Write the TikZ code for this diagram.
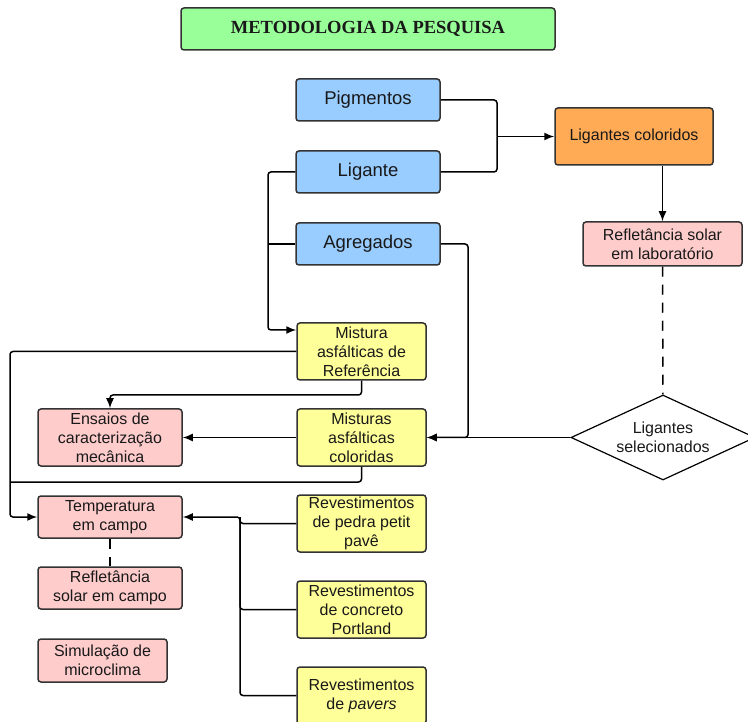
\documentclass[tikz,border=0pt]{standalone}
\usepackage{fontspec}
\setmainfont{Liberation Sans}
\newfontfamily\titlefont{Liberation Serif}
\usetikzlibrary{shapes.geometric, arrows.meta}

\definecolor{ttlgreen}{HTML}{99FF99}
\definecolor{bluebox}{HTML}{99CCFF}
\definecolor{orangebox}{HTML}{FFAA55}
\definecolor{pinkbox}{HTML}{FFCCCC}
\definecolor{yellowbox}{HTML}{FFFF99}

\begin{document}
\begin{tikzpicture}[x=1pt, y=-1pt, node distance={86pt}, line width=1.5pt, >={Latex[length=10pt, width=8pt]},
    main/.style = {draw=black!80, rounded corners=3pt, align=center, inner sep=0pt, text=black!90, font=\fontsize{16}{19}\selectfont},
    ttl/.style = {main, fill=ttlgreen, minimum width=374pt, minimum height=42pt, font=\titlefont\bfseries\fontsize{18.5}{22}\selectfont},
    blu/.style = {main, fill=bluebox, minimum width=144pt, minimum height=42pt, node distance=72pt, font=\fontsize{18.5}{22}\selectfont},
    org/.style = {main, fill=orangebox, minimum width=158pt, minimum height=57pt},
    pnk/.style = {main, fill=pinkbox, minimum width=144pt, minimum height=42pt},
    yel/.style = {main, fill=yellowbox, minimum width=129pt, minimum height=57pt},
    dia/.style = {draw, diamond, aspect=2.16, line width=1.2pt, minimum width=184pt, minimum height=85pt, inner sep=0pt, align=center, text=black!90, font=\fontsize{16}{19}\selectfont},
    link/.style = {rounded corners=3pt},
    dsh/.style = {dash pattern=on 10pt off 8pt}]

    \useasboundingbox (0,0) rectangle (748,722);

    \node[ttl] (1) at (368,29) {METODOLOGIA DA PESQUISA};
    \node[blu] (2) at (368,100) {Pigmentos};
    \node[blu] (3) [below of=2] {Ligante};
    \node[blu] (4) [below of=3] {Agregados};
    \node[org] (5) at (634,136.5) {Ligantes coloridos};
    \node[pnk, minimum width=159pt, minimum height=44pt] (6) at (662.5,244) {Refletância solar\\em laboratório};
    \node[dia] (7) at (663,437.5) {Ligantes\\selecionados};
    \node[yel] (8) at (361.5,351.5) {Mistura\\asfálticas de\\Referência};
    \node[yel] (9) [below of=8] {Misturas\\asfálticas\\coloridas};
    \node[yel] (10) [below of=9] {Revestimentos\\de pedra petit\\pavê};
    \node[yel] (11) [below of=10] {Revestimentos\\de concreto\\Portland};
    \node[yel] (12) [below of=11] {Revestimentos\\de \textit{pavers}};
    \node[pnk, minimum height=57pt] (13) at (110,437.5) {Ensaios de\\caracterização\\mecânica};
    \node[pnk] (14) at (110,517) {Temperatura\\em campo};
    \node[pnk] (15) at (110,588) {Refletância\\solar em campo};
    \node[pnk, minimum width=129pt, minimum height=43pt] (16) at (102.5,660.5) {Simulação de\\microclima};

    \coordinate (a) at (497,136.5);
    \coordinate (b) at (268,330);
    \coordinate (c) at (468,437.5);
    \coordinate (d) at (10,450);
    \coordinate (e) at (110,395);
    \coordinate (f) at (10,482);
    \coordinate (g) at (240,517);

    \draw[link] (2) -| (a);
    \draw[link] (3) -| (a);
    \draw[link, ->] (a) -- (5);
    \draw[->] (5.south -| 6) -- (6);
    \draw[dsh] (6) -- (7);
    \draw[link, ->] (3) -| (b) -- (8.west |- b);
    \draw[link] (4) -- (4.west -| b);
    \draw[link, ->] (4) -| (c) -- (9);
    \draw[->] (7) -- (9);
    \draw[->] (9) -- (13);
    \draw[link, ->] (8) -| (d) |- (14);
    \draw[link, ->] (8.south) |- (e) -- (13);
    \draw[link] (9.south) |- (f);
    \draw[link, ->] (10) -| (g) -- (14);
    \draw[link] (11) -| (g);
    \draw[link] (12) -| (g);
    \draw[dsh] (14) -- (15);

    \end{tikzpicture}
\end{document}
